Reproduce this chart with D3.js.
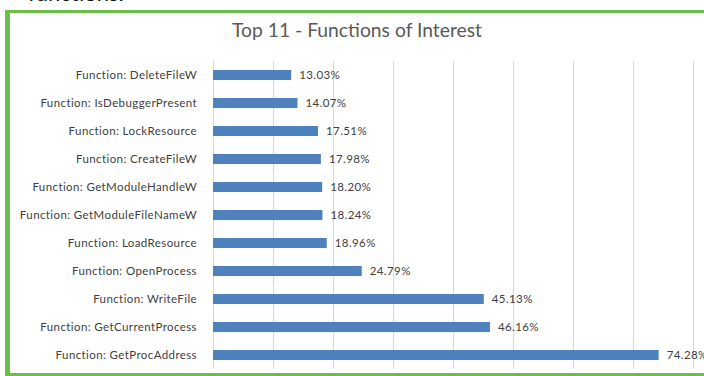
<!DOCTYPE html>
<html>
<head>
<meta charset="utf-8">
<script src="https://cdn.jsdelivr.net/npm/d3@7"></script>
<style>
  html, body { margin: 0; padding: 0; background: #fff; }
  svg { display: block; }
</style>
</head>
<body>
<svg id="chart" width="704" height="376"></svg>
<script>
// Function names, top of the list first
const functions = [
  "Function: DeleteFileW",
  "Function: IsDebuggerPresent",
  "Function: LockResource",
  "Function: CreateFileW",
  "Function: GetModuleHandleW",
  "Function: GetModuleFileNameW",
  "Function: LoadResource",
  "Function: OpenProcess",
  "Function: WriteFile",
  "Function: GetCurrentProcess",
  "Function: GetProcAddress"
];
// Share of samples using each function (percent)
const shares = [13.03, 14.07, 17.51, 17.98, 18.20, 18.24, 18.96, 24.79, 45.13, 46.16, 74.28];
// Vertical gridline positions (percent)
const gridTicks = [0, 10, 20, 30, 40, 50, 60, 70, 80];

const svg = d3.select("#chart");
const font = "Lato, 'Open Sans', sans-serif";

// Surrounding document text, cut off by the frame
svg.append("text")
  .attr("x", 28).attr("y", 1)
  .attr("font-family", font).attr("font-size", 22)
  .attr("fill", "#111")
  .text("functions.");

// Green frame around the chart
svg.append("rect")
  .attr("x", 5).attr("y", 10).attr("width", 5).attr("height", 366)
  .attr("fill", "#6ABF47");
svg.append("rect")
  .attr("x", 5).attr("y", 10).attr("width", 699).attr("height", 3)
  .attr("fill", "#6ABF47");
svg.append("rect")
  .attr("x", 5).attr("y", 373).attr("width", 699).attr("height", 3)
  .attr("fill", "#6ABF47");

const x = d3.scaleLinear().domain([0, 80]).range([213, 693]);
const y = d3.scaleBand().domain(functions).range([61, 369]).paddingInner(0.64).paddingOuter(0.32);

// Title
svg.append("text")
  .attr("x", 357).attr("y", 37)
  .attr("text-anchor", "middle")
  .attr("font-family", font).attr("font-size", 19.3)
  .attr("fill", "#595959")
  .text("Top 11 - Functions of Interest");

// Gridlines
svg.append("g").selectAll("line")
  .data(gridTicks).join("line")
  .attr("x1", d => x(d) + 0.5).attr("x2", d => x(d) + 0.5)
  .attr("y1", 61).attr("y2", 369)
  .attr("stroke", "#D9D9D9").attr("stroke-width", 1);

// Bars
svg.append("g").selectAll("rect")
  .data(shares).join("rect")
  .attr("x", x(0))
  .attr("y", (d, i) => y(functions[i]))
  .attr("width", d => x(d) - x(0))
  .attr("height", y.bandwidth())
  .attr("fill", "#4F81BD");

// Category labels
const yAxis = d3.axisLeft(y).tickSize(0).tickPadding(16);
const ga = svg.append("g").attr("transform", `translate(${x(0)},0)`).call(yAxis);
ga.select(".domain").remove();
ga.selectAll("text")
  .attr("font-family", font).attr("font-size", 11.5)
  .attr("letter-spacing", 0.4)
  .attr("fill", "#404040");

// Value labels
svg.append("g").selectAll("text")
  .data(shares).join("text")
  .attr("x", d => x(d) + 8)
  .attr("y", (d, i) => y(functions[i]) + y.bandwidth() / 2)
  .attr("dy", "0.35em")
  .attr("font-family", font).attr("font-size", 11.5)
  .attr("letter-spacing", 0.4)
  .attr("fill", "#404040")
  .text(d => d.toFixed(2) + "%");
</script>
</body>
</html>
